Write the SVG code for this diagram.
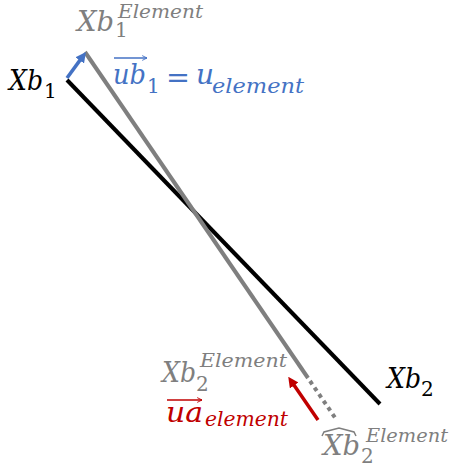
<svg xmlns="http://www.w3.org/2000/svg" width="453" height="468" viewBox="0 0 453 468">
<defs>
<style>
text{font-family:"DejaVu Serif","Liberation Serif",serif;font-style:italic}
.n{font-style:normal}
.big{font-size:28px}
.sub{font-size:20px}
.sup{font-size:19px}
.g{fill:#7f7f7f}
.k{fill:#000}
.b{fill:#4472c4}
.r{fill:#c00000}
</style>
<marker id="ab" viewBox="0 0 10 10" refX="1" refY="5" markerWidth="3" markerHeight="3" orient="auto"><path d="M0,0L10,5L0,10z" fill="#4472c4"/></marker>
<marker id="ar" viewBox="0 0 10 10" refX="1" refY="5" markerWidth="3" markerHeight="3" orient="auto"><path d="M0,0L10,5L0,10z" fill="#c00000"/></marker>
<marker id="ovb" viewBox="0 0 10 10" refX="9" refY="5" markerWidth="6" markerHeight="6" orient="auto" markerUnits="userSpaceOnUse"><path d="M1,1L9,5L1,9" fill="none" stroke="#4472c4" stroke-width="1.5"/></marker>
<marker id="ovr" viewBox="0 0 10 10" refX="9" refY="5" markerWidth="6" markerHeight="6" orient="auto" markerUnits="userSpaceOnUse"><path d="M1,1L9,5L1,9" fill="none" stroke="#c00000" stroke-width="1.5"/></marker>
</defs>
<g id="connectors">
<line x1="67" y1="80" x2="380" y2="404" stroke="#000" stroke-width="4"/>
<line x1="85" y1="52" x2="308" y2="378" stroke="#7f7f7f" stroke-width="4"/>
<line x1="310" y1="381" x2="336" y2="419" stroke="#7f7f7f" stroke-width="4" stroke-dasharray="4,4"/>
<line x1="67" y1="78" x2="80.4" y2="59.6" stroke="#4472c4" stroke-width="3.5" marker-end="url(#ab)"/>
<line x1="318" y1="420" x2="293.6" y2="384.6" stroke="#c00000" stroke-width="3.5" marker-end="url(#ar)"/>
</g>
<g id="label-xb1-element">
<text class="g"><tspan class="big" x="77" y="31" textLength="37" lengthAdjust="spacingAndGlyphs">Xb</tspan><tspan class="sup" x="118" y="18" textLength="85" lengthAdjust="spacingAndGlyphs">Element</tspan><tspan class="n sub" x="115" y="37">1</tspan></text>
</g>
<g id="label-xb1">
<text class="k"><tspan class="big" x="9" y="90" textLength="34" lengthAdjust="spacingAndGlyphs">Xb</tspan><tspan class="n sub" x="44" y="98">1</tspan></text>
</g>
<g id="label-ub1">
<line x1="114" y1="58" x2="147" y2="58" stroke="#4472c4" stroke-width="1.5" marker-end="url(#ovb)"/>
<text class="b"><tspan class="big" x="113" y="84" textLength="33" lengthAdjust="spacingAndGlyphs">ub</tspan><tspan class="n sub" x="147" y="93">1</tspan><tspan class="n big" x="166" y="87" textLength="24" lengthAdjust="spacingAndGlyphs">=</tspan><tspan class="big" x="196" y="84">u</tspan><tspan class="sub" x="212" y="93" textLength="92" lengthAdjust="spacingAndGlyphs">element</tspan></text>
</g>
<g id="label-xb2-element">
<text class="g"><tspan class="big" x="162" y="382" textLength="34" lengthAdjust="spacingAndGlyphs">Xb</tspan><tspan class="sup" x="200" y="367" textLength="87" lengthAdjust="spacingAndGlyphs">Element</tspan><tspan class="n sub" x="196" y="391">2</tspan></text>
</g>
<g id="label-ua">
<line x1="167" y1="400" x2="202" y2="400" stroke="#c00000" stroke-width="1.5" marker-end="url(#ovr)"/>
<text class="r"><tspan class="big" x="166" y="422" textLength="37" lengthAdjust="spacingAndGlyphs">ua</tspan><tspan class="sub" x="205" y="426" textLength="83" lengthAdjust="spacingAndGlyphs">element</tspan></text>
</g>
<g id="label-xb2">
<text class="k"><tspan class="big" x="387" y="388" textLength="34" lengthAdjust="spacingAndGlyphs">Xb</tspan><tspan class="n sub" x="421" y="396">2</tspan></text>
</g>
<g id="label-xb2-hat">
<path d="M322,436 L324,432 L339,428 L354,432 L356,436" fill="none" stroke="#7f7f7f" stroke-width="1.5"/>
<text class="g"><tspan class="big" x="323" y="455" textLength="37" lengthAdjust="spacingAndGlyphs">Xb</tspan><tspan class="sup" x="366" y="442" textLength="82" lengthAdjust="spacingAndGlyphs">Element</tspan><tspan class="n sub" x="361" y="463">2</tspan></text>
</g>
</svg>
